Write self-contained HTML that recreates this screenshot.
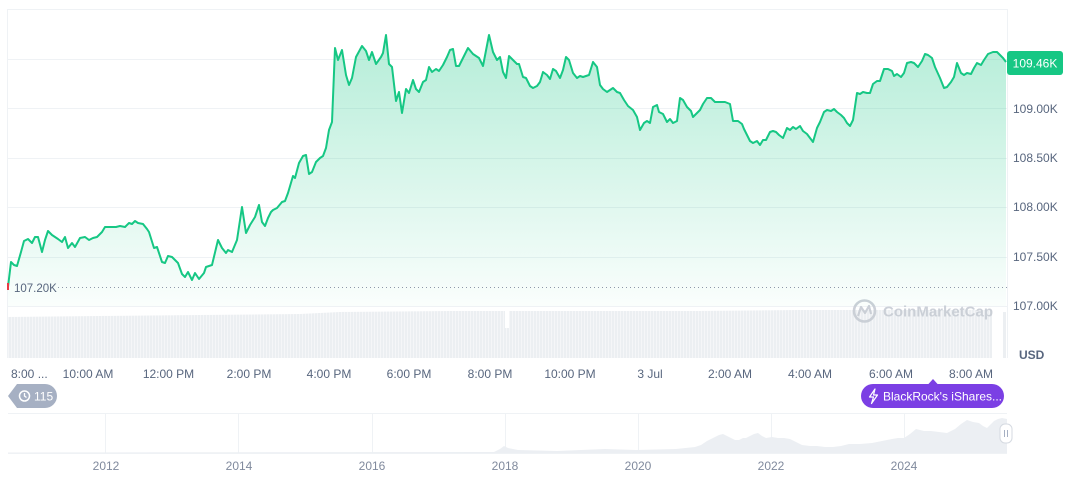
<!DOCTYPE html>
<html><head><meta charset="utf-8"><style>
html,body{margin:0;padding:0;background:#fff;}
svg{display:block;font-family:"Liberation Sans",sans-serif;}
</style></head><body>
<svg width="1072" height="477" viewBox="0 0 1072 477" xmlns="http://www.w3.org/2000/svg">
<defs>
<linearGradient id="g" gradientUnits="userSpaceOnUse" x1="0" y1="35" x2="0" y2="306">
<stop offset="0" stop-color="#16c784" stop-opacity="0.32"/>
<stop offset="1" stop-color="#16c784" stop-opacity="0.02"/>
</linearGradient>
<pattern id="vb" width="3" height="60" patternUnits="userSpaceOnUse">
<rect x="0" y="0" width="2.2" height="60" fill="#eceff2"/>
<rect x="2.2" y="0" width="0.8" height="60" fill="#f4f5f7"/>
</pattern>
</defs>
<!-- grid -->
<g stroke="#eff2f5" stroke-width="1">
<line x1="8" y1="9.5" x2="1007" y2="9.5"/>
<line x1="8" y1="59.5" x2="1007" y2="59.5"/>
<line x1="8" y1="108.5" x2="1007" y2="108.5"/>
<line x1="8" y1="158.5" x2="1007" y2="158.5"/>
<line x1="8" y1="207.5" x2="1007" y2="207.5"/>
<line x1="8" y1="257.5" x2="1007" y2="257.5"/>
<line x1="8" y1="306.5" x2="1007" y2="306.5"/>
<line x1="7.5" y1="9" x2="7.5" y2="358"/>
<line x1="1007.5" y1="9" x2="1007.5" y2="358"/>
</g>
<!-- volume -->
<path d="M8,317 L100,316 L200,315 L300,314 L340,312 L450,311 L505,311 L505,358 L8,358 Z" fill="url(#vb)"/>
<path d="M505,328 L509,328 L509,311 L600,311 L700,311 L800,310 L900,310 L992,310 L992,358 L505,358 Z" fill="url(#vb)"/>
<rect x="1003" y="312" width="3" height="46" fill="#eceff2"/>
<!-- watermark -->
<g opacity="0.9">
<circle cx="864.5" cy="311" r="10.5" fill="none" stroke="#c7ccd4" stroke-width="2.6"/>
<path d="M858,316 L861,307 L865,313 L869,306 L871,314" fill="none" stroke="#c7ccd4" stroke-width="2.2" stroke-linejoin="round"/>
<text x="883" y="316.5" font-size="15" font-weight="bold" fill="#c7ccd4">CoinMarketCap</text>
</g>
<!-- area + line -->
<path id="ln" fill="url(#g)" stroke="none" d="M8,306 L8,287 L11,262 L14,265 L17,266 L21,252 L24,241 L28,239 L32,243 L35,237 L38,237 L42,252 L45,240 L48,231 L52,235 L55,237 L58,239 L62,242 L65,237 L68,248 L72,243 L75,247 L80,238 L85,237 L89,240 L93,238 L97,237 L102,232 L105,227 L108,227 L112,227 L116,227 L120,226 L125,227 L129,223 L132,224 L135,221 L138,223 L143,224 L147,229 L149,232 L154,248 L157,247 L162,262 L165,263 L168,256 L172,257 L176,261 L178,263 L182,274 L185,277 L188,272 L192,280 L195,273 L199,279 L204,273 L206,267 L212,265 L218,240 L222,248 L226,253 L228,250 L232,252 L237,240 L242,207 L246,233 L250,225 L255,217 L259,205 L262,222 L265,226 L268,218 L271,212 L273,210 L277,208 L282,202 L285,201 L288,193 L293,176 L295,178 L299,163 L303,156 L306,155 L309,174 L312,172 L316,162 L320,158 L323,156 L326,148 L329,130 L332,122 L335,48 L338,60 L342,50 L346,75 L349,85 L352,78 L356,57 L362,46 L366,51 L369,60 L372,52 L376,64 L381,57 L383,53 L386,35 L389,64 L392,67 L396,101 L399,92 L402,113 L406,89 L409,93 L413,80 L416,89 L419,92 L423,82 L426,80 L429,67 L432,72 L436,69 L439,71 L443,65 L447,57 L450,50 L453,49 L456,66 L459,66 L463,58 L468,48 L473,54 L479,58 L483,66 L489,35 L493,52 L497,60 L500,57 L503,72 L506,78 L509,56 L513,60 L517,64 L519,64 L523,77 L526,78 L530,86 L533,88 L537,86 L540,82 L543,72 L547,75 L550,79 L553,69 L556,71 L560,78 L563,70 L566,57 L569,60 L573,73 L577,78 L580,76 L583,77 L589,75 L593,62 L597,67 L600,85 L603,89 L607,92 L613,88 L617,92 L620,93 L624,100 L628,106 L633,110 L637,117 L640,130 L644,123 L647,121 L650,123 L653,107 L657,105 L659,112 L663,114 L667,122 L670,119 L673,123 L677,121 L680,98 L683,100 L687,107 L691,111 L693,117 L697,113 L700,110 L703,104 L707,98 L711,98 L715,102 L720,102 L725,102 L730,104 L733,121 L738,121 L742,124 L744,129 L747,135 L750,141 L753,143 L757,141 L760,145 L763,140 L766,140 L770,132 L773,131 L776,132 L779,135 L783,138 L787,128 L790,130 L793,127 L796,129 L800,126 L803,131 L807,134 L810,138 L813,142 L817,128 L820,122 L824,112 L827,110 L831,111 L834,109 L837,112 L841,115 L844,118 L847,123 L850,126 L853,120 L857,93 L860,94 L863,92 L867,93 L870,93 L873,84 L877,81 L880,81 L884,69 L888,69 L892,71 L894,76 L897,74 L901,77 L904,73 L907,63 L911,62 L914,63 L918,67 L922,61 L925,54 L928,55 L932,58 L935,67 L940,78 L944,88 L947,87 L951,82 L954,77 L957,63 L961,73 L964,75 L967,73 L971,74 L974,68 L977,63 L981,65 L984,60 L988,54 L993,52 L997,52 L1000,55 L1003,58 L1006,62 L1006,306 Z"/>
<polyline fill="none" stroke="#16c784" stroke-width="2" stroke-linejoin="round" points="8,287 11,262 14,265 17,266 21,252 24,241 28,239 32,243 35,237 38,237 42,252 45,240 48,231 52,235 55,237 58,239 62,242 65,237 68,248 72,243 75,247 80,238 85,237 89,240 93,238 97,237 102,232 105,227 108,227 112,227 116,227 120,226 125,227 129,223 132,224 135,221 138,223 143,224 147,229 149,232 154,248 157,247 162,262 165,263 168,256 172,257 176,261 178,263 182,274 185,277 188,272 192,280 195,273 199,279 204,273 206,267 212,265 218,240 222,248 226,253 228,250 232,252 237,240 242,207 246,233 250,225 255,217 259,205 262,222 265,226 268,218 271,212 273,210 277,208 282,202 285,201 288,193 293,176 295,178 299,163 303,156 306,155 309,174 312,172 316,162 320,158 323,156 326,148 329,130 332,122 335,48 338,60 342,50 346,75 349,85 352,78 356,57 362,46 366,51 369,60 372,52 376,64 381,57 383,53 386,35 389,64 392,67 396,101 399,92 402,113 406,89 409,93 413,80 416,89 419,92 423,82 426,80 429,67 432,72 436,69 439,71 443,65 447,57 450,50 453,49 456,66 459,66 463,58 468,48 473,54 479,58 483,66 489,35 493,52 497,60 500,57 503,72 506,78 509,56 513,60 517,64 519,64 523,77 526,78 530,86 533,88 537,86 540,82 543,72 547,75 550,79 553,69 556,71 560,78 563,70 566,57 569,60 573,73 577,78 580,76 583,77 589,75 593,62 597,67 600,85 603,89 607,92 613,88 617,92 620,93 624,100 628,106 633,110 637,117 640,130 644,123 647,121 650,123 653,107 657,105 659,112 663,114 667,122 670,119 673,123 677,121 680,98 683,100 687,107 691,111 693,117 697,113 700,110 703,104 707,98 711,98 715,102 720,102 725,102 730,104 733,121 738,121 742,124 744,129 747,135 750,141 753,143 757,141 760,145 763,140 766,140 770,132 773,131 776,132 779,135 783,138 787,128 790,130 793,127 796,129 800,126 803,131 807,134 810,138 813,142 817,128 820,122 824,112 827,110 831,111 834,109 837,112 841,115 844,118 847,123 850,126 853,120 857,93 860,94 863,92 867,93 870,93 873,84 877,81 880,81 884,69 888,69 892,71 894,76 897,74 901,77 904,73 907,63 911,62 914,63 918,67 922,61 925,54 928,55 932,58 935,67 940,78 944,88 947,87 951,82 954,77 957,63 961,73 964,75 967,73 971,74 974,68 977,63 981,65 984,60 988,54 993,52 997,52 1000,55 1003,58 1006,62"/>
<!-- open price line -->
<line x1="58" y1="287.5" x2="1007" y2="287.5" stroke="#8e98aa" stroke-width="1" stroke-dasharray="1,3"/>
<rect x="7" y="283" width="2" height="7" fill="#ea3943"/>
<text x="14" y="292" font-size="11.5" fill="#58667e">107.20K</text>
<!-- y labels -->
<g font-size="12" fill="#58667e">
<text x="1013" y="113">109.00K</text>
<text x="1013" y="162">108.50K</text>
<text x="1013" y="211">108.00K</text>
<text x="1013" y="261">107.50K</text>
<text x="1013" y="310">107.00K</text>
<text x="1019" y="359" font-weight="bold">USD</text>
</g>
<rect x="1007" y="51" width="56" height="24" rx="3" fill="#16c784"/>
<text x="1035" y="67.5" font-size="12" fill="#fff" text-anchor="middle">109.46K</text>
<!-- x labels -->
<g font-size="12" fill="#58667e" text-anchor="middle">
<text x="11" y="378" text-anchor="start">8:00 ...</text>
<text x="88" y="378">10:00 AM</text>
<text x="168.5" y="378">12:00 PM</text>
<text x="249" y="378">2:00 PM</text>
<text x="329" y="378">4:00 PM</text>
<text x="409" y="378">6:00 PM</text>
<text x="490" y="378">8:00 PM</text>
<text x="570" y="378">10:00 PM</text>
<text x="650" y="378">3 Jul</text>
<text x="730" y="378">2:00 AM</text>
<text x="810" y="378">4:00 AM</text>
<text x="891" y="378">6:00 AM</text>
<text x="971" y="378">8:00 AM</text>
</g>
<!-- 115 badge -->
<path d="M8,396 L17,384 H45 A12,12 0 0 1 45,408 H17 Z" fill="#a6b0c3"/>
<circle cx="24.5" cy="396" r="5" fill="none" stroke="#fff" stroke-width="1.5"/>
<path d="M24.5,393 V396 L26.5,397.5" fill="none" stroke="#fff" stroke-width="1.3"/>
<text x="34" y="400.5" font-size="12" fill="#fff">115</text>
<!-- BlackRock badge -->
<path d="M928,384.5 L933,379 L938,384.5 Z" fill="#7b3fe4"/>
<rect x="861" y="384" width="143" height="24" rx="12" fill="#7b3fe4"/>
<path d="M875,389 L869.5,397 H873.5 L871.5,403.5 L877.5,395 H873.5 Z" fill="none" stroke="#fff" stroke-width="1.2" stroke-linejoin="round"/>
<text x="883" y="400.5" font-size="12" fill="#fff">BlackRock's iShares...</text>
<!-- navigator -->
<g stroke="#eff2f5" stroke-width="1">
<line x1="8" y1="413.5" x2="1007" y2="413.5"/>
<line x1="8" y1="453.5" x2="1007" y2="453.5"/>
<line x1="105.5" y1="413" x2="105.5" y2="453"/>
<line x1="238.5" y1="413" x2="238.5" y2="453"/>
<line x1="372.5" y1="413" x2="372.5" y2="453"/>
<line x1="505.5" y1="413" x2="505.5" y2="453"/>
<line x1="638.5" y1="413" x2="638.5" y2="453"/>
<line x1="771.5" y1="413" x2="771.5" y2="453"/>
<line x1="904.5" y1="413" x2="904.5" y2="453"/>
</g>
<path d="M8,453 L8,452.5 L494,452 L500,449 L504,446 L508,448 L518,450 L557,451 L605,449 L636,450 L676,449 L695,447 L701,445 L707,441 L711,439 L715,437 L719,435 L723,434 L727,436 L731,438 L735,440 L739,440 L743,438 L746,438 L750,436 L754,434 L758,433 L762,436 L766,438 L772,437 L778,438 L784,438 L790,439 L796,442 L802,445 L810,446 L817,446 L825,447 L833,447 L841,446 L849,444 L860,444 L872,443 L882,441 L892,439 L898,438 L904,438 L910,434 L916,429 L924,431 L931,431 L939,432 L947,433 L951,431 L955,429 L961,424 L967,420 L973,422 L979,423 L983,426 L987,428 L991,424 L994,421 L998,419 L1002,418 L1007,419 L1007,453 Z" fill="#eceff3"/>
<rect x="1000" y="424" width="12" height="19" rx="5" fill="#fff" stroke="#d5dae1" stroke-width="1"/>
<line x1="1004.5" y1="430" x2="1004.5" y2="437" stroke="#a6b0c3" stroke-width="1"/>
<line x1="1007.5" y1="430" x2="1007.5" y2="437" stroke="#a6b0c3" stroke-width="1"/>
<g font-size="12" fill="#808a9d" text-anchor="middle">
<text x="106" y="470">2012</text>
<text x="239" y="470">2014</text>
<text x="372" y="470">2016</text>
<text x="505" y="470">2018</text>
<text x="638" y="470">2020</text>
<text x="771" y="470">2022</text>
<text x="904" y="470">2024</text>
</g>
</svg>
</body></html>
